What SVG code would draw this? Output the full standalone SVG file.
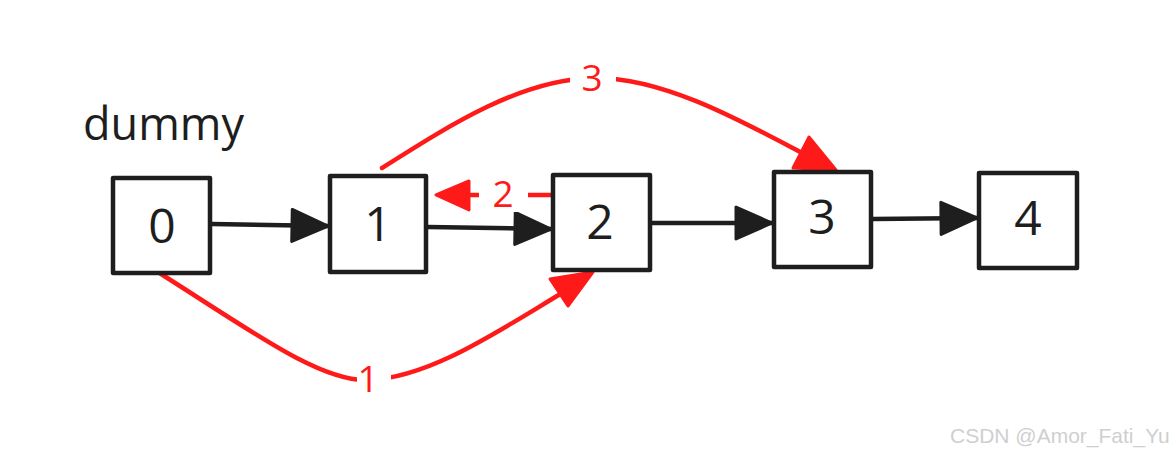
<svg xmlns="http://www.w3.org/2000/svg" width="1173" height="461" viewBox="0 0 1173 461">
<style>
.box{fill:#ffffff;stroke:#1e1e1e;stroke-width:4.5;stroke-linejoin:round}
.num{font-family:"Open Sans","Noto Sans",sans-serif;font-size:48px;fill:#1e1e1e;text-anchor:middle}
.blk{stroke:#1e1e1e;stroke-width:4.5;fill:none;stroke-linecap:round}
.red{stroke:#ff1a1a;stroke-width:4.5;fill:none;stroke-linecap:round}
.rhead{fill:#ff1a1a;stroke:#ff1a1a;stroke-width:3;stroke-linejoin:round}
.rlab{font-family:"Open Sans","Noto Sans",sans-serif;font-size:37px;fill:#ff1a1a;text-anchor:middle}
</style>
<defs>
<marker id="ah" viewBox="0 0 40 36" markerUnits="userSpaceOnUse" markerWidth="40" markerHeight="36" refX="38" refY="18" orient="auto">
<polygon points="2,2 38,18 2,34" fill="#1e1e1e" stroke="#1e1e1e" stroke-width="3" stroke-linejoin="round"/>
</marker>
</defs>
<rect width="1173" height="461" fill="#ffffff"/>
<text x="83" y="140" font-family="Open Sans, Noto Sans, sans-serif" font-size="45" fill="#1e1e1e">dummy</text>
<g id="connectors">
<line class="blk" x1="212" y1="224" x2="328" y2="226" marker-end="url(#ah)"/>
<line class="blk" x1="428" y1="227" x2="551" y2="229" marker-end="url(#ah)"/>
<line class="blk" x1="652" y1="223" x2="772" y2="223" marker-end="url(#ah)"/>
<line class="blk" x1="873" y1="219" x2="977" y2="218" marker-end="url(#ah)"/>
<path class="red" d="M161,274 C250,330 320,382 368,380 C430,378 500,330 562,293"/>
<polygon class="rhead" points="550,279 593,272 568,306"/>
<path class="red" d="M382,168 C450,125 520,80 592,78 C660,76 740,120 802,153"/>
<polygon class="rhead" points="809,137 836,170 793,168"/>
<line class="red" x1="552" y1="195" x2="465" y2="195"/>
<polygon class="rhead" points="469,181 436,195 469,210"/>
<rect x="479" y="178" width="49" height="34" fill="#ffffff"/>
<text class="rlab" x="503" y="207">2</text>
<rect x="357" y="360" width="34" height="36" fill="#ffffff"/>
<text class="rlab" x="368" y="392">1</text>
<rect x="570" y="60" width="46" height="36" fill="#ffffff"/>
<text class="rlab" x="592" y="91">3</text>
</g>
<g id="node0"><rect class="box" x="113" y="178" width="97" height="95"/><text class="num" x="162" y="243">0</text></g>
<g id="node1"><rect class="box" x="330" y="176" width="96" height="96"/><text class="num" x="378" y="241">1</text></g>
<g id="node2"><rect class="box" x="553" y="175" width="97" height="95"/><text class="num" x="600" y="239">2</text></g>
<g id="node3"><rect class="box" x="774" y="172" width="97" height="95"/><text class="num" x="822" y="234">3</text></g>
<g id="node4"><rect class="box" x="979" y="173" width="98" height="95"/><text class="num" x="1028" y="235">4</text></g>
<text x="950" y="443" font-family="Liberation Sans, Arial, sans-serif" font-size="21" fill="#cfcfcf">CSDN @Amor_Fati_Yu</text>
</svg>
